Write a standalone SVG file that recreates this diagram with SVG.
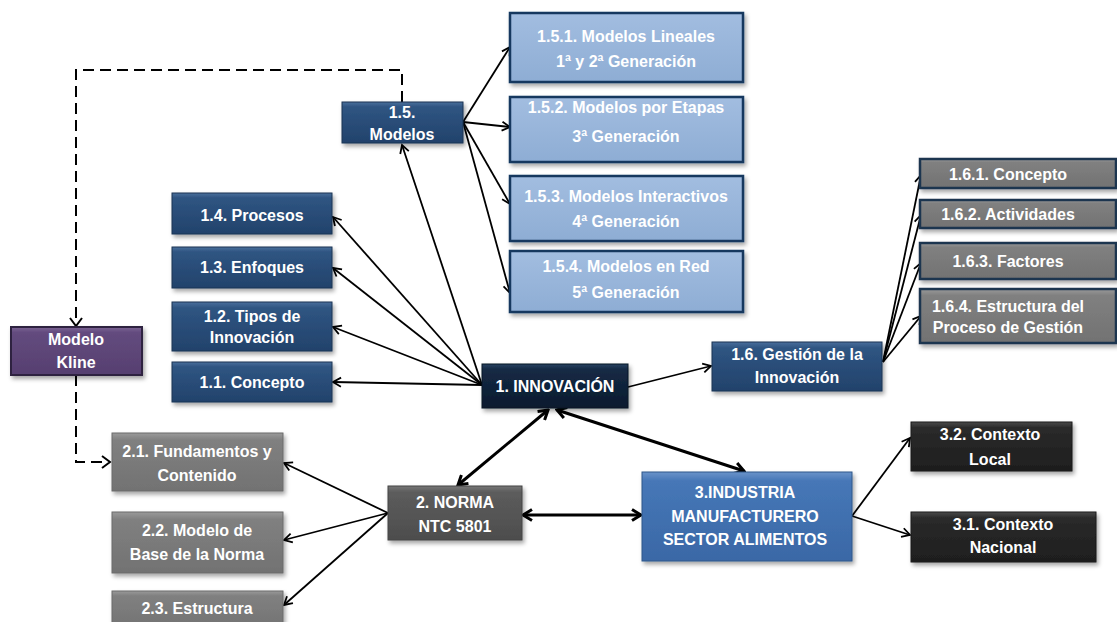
<svg xmlns="http://www.w3.org/2000/svg" width="1117" height="622" viewBox="0 0 1117 622">
  <defs>
    <style>
      .t { font-family: "Liberation Sans", Arial, sans-serif; font-weight: bold; font-size: 16px; fill: #ffffff; text-anchor: middle; }
      .box { filter: url(#shadow); }
      .blue { fill: url(#gBlue); stroke: #1c3553; stroke-width: 1; }
      .light { fill: url(#gLight); stroke: #17375e; stroke-width: 2.5; }
      .navy { fill: url(#gNavy); stroke: #0a1626; stroke-width: 1; }
      .gray6 { fill: url(#gGray); stroke: #1f3550; stroke-width: 2.5; }
      .gray2 { fill: url(#gGray); stroke: #6b6b6b; stroke-width: 1; }
      .dgray { fill: url(#gDGray); stroke: #444; stroke-width: 1; }
      .ind { fill: url(#gInd); stroke: #2f5689; stroke-width: 1; }
      .black { fill: url(#gBlack); stroke: #1a1a1a; stroke-width: 1; }
      .purple { fill: url(#gPurple); stroke: #2e2140; stroke-width: 2; }
      .ln { fill: none; stroke: #000; stroke-width: 1.8; marker-end: url(#arr); }
      .thick { fill: none; stroke: #000; stroke-width: 3; marker-start: url(#arrB); marker-end: url(#arrB); }
      .dash { fill: none; stroke: #000; stroke-width: 2; stroke-dasharray: 11 6; }
    </style>
    <filter id="shadow" x="-10%" y="-20%" width="130%" height="150%">
      <feDropShadow dx="2" dy="3" stdDeviation="2" flood-color="#000" flood-opacity="0.35"/>
    </filter>
    <linearGradient id="gBlue" x1="0" y1="0" x2="0" y2="1">
      <stop offset="0" stop-color="#4a6f9c"/>
      <stop offset="0.12" stop-color="#2f5582"/>
      <stop offset="1" stop-color="#22426b"/>
    </linearGradient>
    <linearGradient id="gLight" x1="0" y1="0" x2="0" y2="1">
      <stop offset="0" stop-color="#a2bde0"/>
      <stop offset="1" stop-color="#8eadd4"/>
    </linearGradient>
    <linearGradient id="gNavy" x1="0" y1="0" x2="0" y2="1">
      <stop offset="0" stop-color="#2a4262"/>
      <stop offset="0.12" stop-color="#142a45"/>
      <stop offset="1" stop-color="#0c1b2e"/>
    </linearGradient>
    <linearGradient id="gGray" x1="0" y1="0" x2="0" y2="1">
      <stop offset="0" stop-color="#9a9a9a"/>
      <stop offset="0.12" stop-color="#808080"/>
      <stop offset="1" stop-color="#727272"/>
    </linearGradient>
    <linearGradient id="gDGray" x1="0" y1="0" x2="0" y2="1">
      <stop offset="0" stop-color="#777"/>
      <stop offset="0.12" stop-color="#5c5c5c"/>
      <stop offset="1" stop-color="#4d4d4d"/>
    </linearGradient>
    <linearGradient id="gInd" x1="0" y1="0" x2="0" y2="1">
      <stop offset="0" stop-color="#6a93c9"/>
      <stop offset="0.1" stop-color="#4677b7"/>
      <stop offset="1" stop-color="#3a68a6"/>
    </linearGradient>
    <linearGradient id="gBlack" x1="0" y1="0" x2="0" y2="1">
      <stop offset="0" stop-color="#4a4a4a"/>
      <stop offset="0.12" stop-color="#2a2a2a"/>
      <stop offset="1" stop-color="#1e1e1e"/>
    </linearGradient>
    <linearGradient id="gPurple" x1="0" y1="0" x2="0" y2="1">
      <stop offset="0" stop-color="#7a6393"/>
      <stop offset="0.12" stop-color="#634b7e"/>
      <stop offset="1" stop-color="#563f70"/>
    </linearGradient>
    <marker id="arr" viewBox="0 0 12 12" refX="10" refY="6" markerWidth="12" markerHeight="12" markerUnits="userSpaceOnUse" orient="auto-start-reverse">
      <path d="M2,1.5 L10,6 L2,10.5" fill="none" stroke="#000" stroke-width="1.8"/>
    </marker>
    <marker id="arrB" viewBox="0 0 14 14" refX="12" refY="7" markerWidth="14" markerHeight="14" markerUnits="userSpaceOnUse" orient="auto-start-reverse">
      <path d="M3,1.5 L12,7 L3,12.5" fill="none" stroke="#000" stroke-width="3"/>
    </marker>
  </defs>

  <rect width="1117" height="622" fill="#ffffff"/>

  <!-- connectors -->
  <g id="connectors">
    <!-- Innovación to its branches -->
    <line class="ln" x1="482" y1="385" x2="333" y2="382"/>
    <line class="ln" x1="482" y1="385" x2="333" y2="327"/>
    <line class="ln" x1="482" y1="385" x2="333" y2="268"/>
    <line class="ln" x1="482" y1="385" x2="333" y2="217"/>
    <line class="ln" x1="482" y1="385" x2="402" y2="145"/>
    <!-- Modelos to sub-models -->
    <line class="ln" x1="463" y1="122" x2="510" y2="47"/>
    <line class="ln" x1="463" y1="122" x2="510" y2="127"/>
    <line class="ln" x1="463" y1="122" x2="510" y2="204"/>
    <line class="ln" x1="463" y1="122" x2="510" y2="293"/>
    <!-- Innovación to Gestión -->
    <line class="ln" x1="628" y1="387" x2="711" y2="366"/>
    <!-- Gestión to sub-items -->
    <line class="ln" x1="883" y1="362" x2="921" y2="175"/>
    <line class="ln" x1="883" y1="362" x2="921" y2="215"/>
    <line class="ln" x1="883" y1="362" x2="921" y2="263"/>
    <line class="ln" x1="883" y1="362" x2="921" y2="316"/>
    <!-- two-way links -->
    <line class="thick" x1="548" y1="410" x2="458" y2="485"/>
    <line class="thick" x1="557" y1="410" x2="744" y2="471"/>
    <line class="thick" x1="523" y1="515" x2="641" y2="515"/>
    <!-- Norma to its sections -->
    <line class="ln" x1="388" y1="513" x2="284" y2="463"/>
    <line class="ln" x1="388" y1="513" x2="284" y2="540"/>
    <line class="ln" x1="388" y1="513" x2="284" y2="605"/>
    <!-- Industria to contexts -->
    <line class="ln" x1="852" y1="516" x2="910" y2="438"/>
    <line class="ln" x1="852" y1="516" x2="910" y2="535"/>
    <!-- Kline dashed links -->
    <path class="dash" d="M402,102 V70 H76 V318"/>
    <path d="M70,318 L76,326 L82,318" fill="none" stroke="#000" stroke-width="2"/>
    <path class="dash" d="M76,375 V462 H103"/>
    <path d="M102,456 L110,462 L102,468" fill="none" stroke="#000" stroke-width="2"/>
  </g>

  <!-- level 1.5 models -->
  <g id="n15">
    <rect class="box blue" x="342" y="102" width="121" height="41"/>
    <text class="t" x="402" y="118">1.5.</text>
    <text class="t" x="402" y="140">Modelos</text>
  </g>
  <g id="n151">
    <rect class="box light" x="510" y="13" width="233" height="69"/>
    <text class="t" x="626" y="42">1.5.1. Modelos Lineales</text>
    <text class="t" x="626" y="67">1ª y 2ª Generación</text>
  </g>
  <g id="n152">
    <rect class="box light" x="510" y="97" width="233" height="65"/>
    <text class="t" x="626" y="113">1.5.2. Modelos por Etapas</text>
    <text class="t" x="626" y="142">3ª Generación</text>
  </g>
  <g id="n153">
    <rect class="box light" x="510" y="176" width="233" height="65"/>
    <text class="t" x="626" y="202">1.5.3. Modelos Interactivos</text>
    <text class="t" x="626" y="227">4ª Generación</text>
  </g>
  <g id="n154">
    <rect class="box light" x="510" y="251" width="233" height="61"/>
    <text class="t" x="626" y="272">1.5.4. Modelos en Red</text>
    <text class="t" x="626" y="298">5ª  Generación</text>
  </g>

  <!-- left branches of innovation -->
  <g id="n14">
    <rect class="box blue" x="172" y="193" width="160" height="41"/>
    <text class="t" x="252" y="221">1.4. Procesos</text>
  </g>
  <g id="n13">
    <rect class="box blue" x="172" y="247" width="160" height="41"/>
    <text class="t" x="252" y="273">1.3. Enfoques</text>
  </g>
  <g id="n12">
    <rect class="box blue" x="172" y="302" width="160" height="49"/>
    <text class="t" x="252" y="322">1.2. Tipos de</text>
    <text class="t" x="252" y="343">Innovación</text>
  </g>
  <g id="n11">
    <rect class="box blue" x="172" y="362" width="160" height="40"/>
    <text class="t" x="252" y="388">1.1. Concepto</text>
  </g>

  <g id="kline">
    <rect class="box purple" x="11" y="327" width="131" height="48"/>
    <text class="t" x="76" y="345">Modelo</text>
    <text class="t" x="76" y="368">Kline</text>
  </g>

  <g id="n1">
    <rect class="box navy" x="482" y="364" width="146" height="44"/>
    <text class="t" x="555" y="392">1. INNOVACIÓN</text>
  </g>

  <!-- management of innovation -->
  <g id="n16">
    <rect class="box blue" x="712" y="342" width="170" height="49"/>
    <text class="t" x="797" y="360">1.6. Gestión de la</text>
    <text class="t" x="797" y="383">Innovación</text>
  </g>
  <g id="n161">
    <rect class="box gray6" x="920" y="159" width="196" height="29"/>
    <text class="t" x="1008" y="180">1.6.1. Concepto</text>
  </g>
  <g id="n162">
    <rect class="box gray6" x="920" y="200" width="196" height="28"/>
    <text class="t" x="1008" y="220">1.6.2. Actividades</text>
  </g>
  <g id="n163">
    <rect class="box gray6" x="920" y="243" width="196" height="36"/>
    <text class="t" x="1008" y="267">1.6.3. Factores</text>
  </g>
  <g id="n164">
    <rect class="box gray6" x="920" y="289" width="196" height="54"/>
    <text class="t" x="1008" y="312">1.6.4. Estructura del</text>
    <text class="t" x="1008" y="333">Proceso de Gestión</text>
  </g>

  <!-- standard NTC 5801 -->
  <g id="n21">
    <rect class="box gray2" x="112" y="433" width="171" height="58"/>
    <text class="t" x="197" y="457">2.1. Fundamentos y</text>
    <text class="t" x="197" y="481">Contenido</text>
  </g>
  <g id="n22">
    <rect class="box gray2" x="112" y="512" width="171" height="61"/>
    <text class="t" x="197" y="536">2.2. Modelo de</text>
    <text class="t" x="197" y="560">Base de la Norma</text>
  </g>
  <g id="n23">
    <rect class="box gray2" x="112" y="591" width="171" height="40"/>
    <text class="t" x="197" y="614">2.3. Estructura</text>
  </g>
  <g id="n2">
    <rect class="box dgray" x="388" y="486" width="134" height="54"/>
    <text class="t" x="455" y="508">2. NORMA</text>
    <text class="t" x="455" y="532">NTC 5801</text>
  </g>

  <!-- food manufacturing industry -->
  <g id="n3">
    <rect class="box ind" x="642" y="472" width="210" height="89"/>
    <text class="t" x="745" y="498">3.INDUSTRIA</text>
    <text class="t" x="745" y="522">MANUFACTURERO</text>
    <text class="t" x="745" y="545">SECTOR ALIMENTOS</text>
  </g>
  <g id="n32">
    <rect class="box black" x="911" y="422" width="161" height="49"/>
    <text class="t" x="990" y="440">3.2. Contexto</text>
    <text class="t" x="990" y="465">Local</text>
  </g>
  <g id="n31">
    <rect class="box black" x="911" y="512" width="185" height="50"/>
    <text class="t" x="1003" y="530">3.1. Contexto</text>
    <text class="t" x="1003" y="553">Nacional</text>
  </g>
</svg>
